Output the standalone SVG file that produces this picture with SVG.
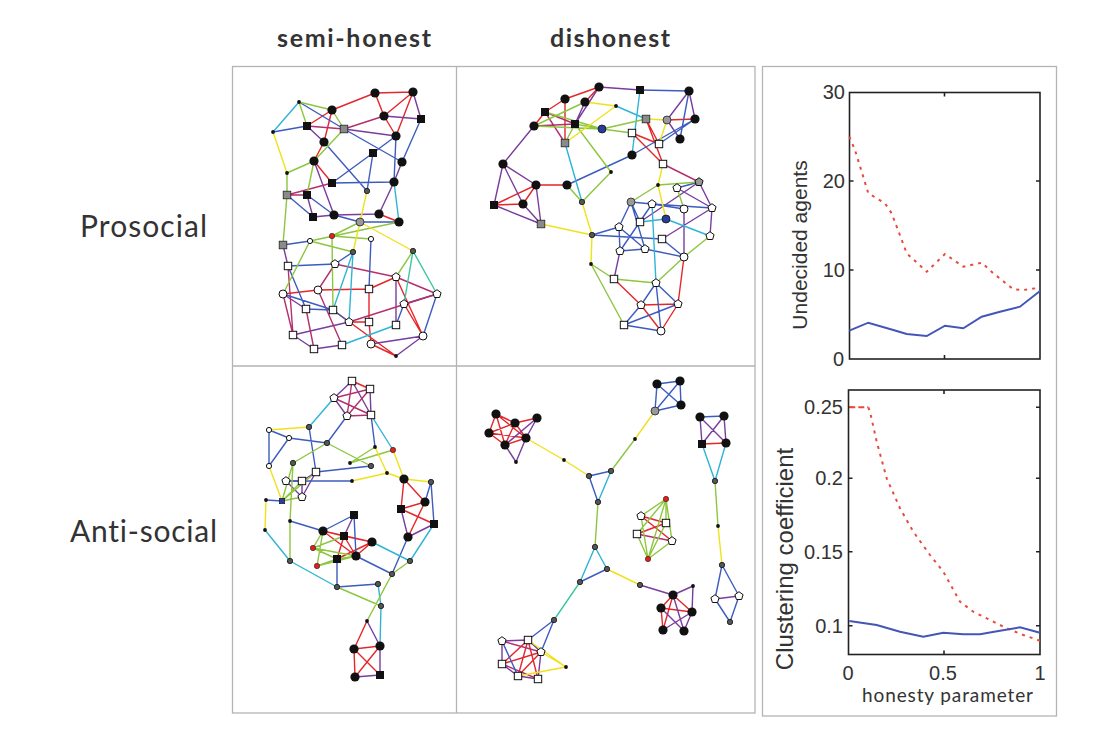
<svg xmlns="http://www.w3.org/2000/svg" width="1108" height="754" viewBox="0 0 1108 754">
<style>
.e{fill:none;stroke-width:1.4;stroke-linecap:round}
.r{stroke:#e5262a}.p{stroke:#7a3c9e}.m{stroke:#b3306e}.b{stroke:#3c5cbf}.c{stroke:#2fb4d6}.g{stroke:#8dc63f}.y{stroke:#f0e21a}.t{stroke:#3cc7a0}
.frame{fill:none;stroke:#b4b4b4;stroke-width:1.3}
.ax{fill:none;stroke:#222;stroke-width:1.6}
.hd{font-family:Lato,"Open Sans",sans-serif;fill:#333;font-variant-ligatures:none}
.tk{font-family:"Liberation Sans",Arial,sans-serif;fill:#333;font-size:20px}
.lbl{font-family:"Liberation Sans",Arial,sans-serif;fill:#333}
</style>
<defs>
<circle id="bc" r="4.6" fill="#111"/>
<rect id="bs" x="-4" y="-4" width="8" height="8" fill="#111"/>
<rect id="gs" x="-3.8" y="-3.8" width="7.6" height="7.6" fill="#8a8a8a" stroke="#222" stroke-width="0.8"/>
<circle id="gc" r="4" fill="#999" stroke="#222" stroke-width="0.8"/>
<rect id="ws" x="-3.7" y="-3.7" width="7.4" height="7.4" fill="#fff" stroke="#111" stroke-width="1"/>
<path id="wp" d="M0 -4.3L4.1 -1.3L2.6 3.5L-2.6 3.5L-4.1 -1.3Z" fill="#fff" stroke="#111" stroke-width="1"/>
<path id="gp" d="M0 -4.3L4.1 -1.3L2.6 3.5L-2.6 3.5L-4.1 -1.3Z" fill="#999" stroke="#111" stroke-width="1"/>
<circle id="wc" r="4" fill="#fff" stroke="#111" stroke-width="1"/>
<circle id="wsm" r="2.6" fill="#fff" stroke="#111" stroke-width="1"/>
<circle id="td" r="1.9" fill="#111"/>
<circle id="sd" r="2.7" fill="#555" stroke="#111" stroke-width="0.8"/>
<circle id="rd" r="2.7" fill="#e02020" stroke="#222" stroke-width="0.6"/>
<circle id="blc" r="4" fill="#2b3d9a" stroke="#111" stroke-width="0.8"/>
<rect id="bls" x="-2.7" y="-2.7" width="5.4" height="5.4" fill="#2b3d9a" stroke="#111" stroke-width="0.6"/>
</defs>
<rect width="1108" height="754" fill="#fff"/>

<g id="frames">
<rect class="frame" x="232.5" y="66.5" width="522.5" height="646.5"/>
<path class="frame" d="M456.5 66.5V713M232.5 366H755"/>
<rect class="frame" x="762.5" y="66.5" width="294" height="649.5"/>
</g>

<g id="headings">
<text class="hd" x="277" y="47" font-size="25" font-weight="700" textLength="154">semi-honest</text>
<text class="hd" x="550" y="47" font-size="25" font-weight="700" textLength="120">dishonest</text>
<text class="hd" x="80" y="237" font-size="30" textLength="127">Prosocial</text>
<text class="hd" x="70" y="542" font-size="30" textLength="147">Anti-social</text>
</g>

<g id="connectors">
<!-- panel 1 -->
<path class="e r" d="M375 93L413 92M375 93L332 110M375 93L384 116M413 92L384 116M413 92L396 136M384 116L396 136M332 110L324 142M332 110L307 126M324 142L314 161M314 161L332 183M379 214L399 222M396 277L369 289M396 277L423 336M283 294L318 290M318 290L369 289M369 289L369 322M333 310L396 356M404 304L423 336M349 322L369 322M369 322L371 344M371 344L396 356"/>
<path class="e p" d="M413 92L421 119M384 116L421 119M307 126L324 142M344 129L396 136M314 161L334 215M402 162L394 182M394 182L379 214M307 195L313 217M313 217L334 215M334 215L379 214M396 277L396 325M283 294L306 309M437 294L404 304M349 322L293 335M293 335L314 349M314 349L342 345M371 344L423 336M396 356L423 336M283 245L288 266"/>
<path class="e m" d="M307 126L344 129M344 129L384 116M287 195L307 195M287 195L332 183M288 266L293 335M335 264L396 277M335 264L318 290M396 277L437 294M283 294L293 335M318 290L342 345M437 294L349 322M306 309L314 349"/>
<path class="e b" d="M299 102L344 129M273 132L307 126M373 153L332 183M373 153L367 191M373 153L396 136M344 129L402 162M396 136L394 182M332 183L394 182M287 195L313 217M307 195L334 215M334 215L360 222M360 222L399 222M324 142L367 191M402 162L421 119M283 245L310 241M353 252L335 264M371 239L369 289M288 266L335 264M288 266L306 309M306 309L333 310M333 310L349 322M404 304L396 325M437 294L423 336M283 294L333 310"/>
<path class="e c" d="M299 102L273 132M353 252L333 310M353 252L349 322M342 345L396 325M394 182L399 222"/>
<path class="e t" d="M413 251L404 304M413 251L437 294"/>
<path class="e g" d="M299 102L332 110M299 102L307 126M332 110L344 129M344 129L314 161M287 173L314 161M287 173L287 195M314 161L307 195M287 195L283 245M360 222L332 236M399 222L310 241M332 236L371 239M310 241L353 252M310 241L283 294M332 236L333 310M413 251L396 277"/>
<path class="e y" d="M273 132L287 173M367 191L360 222M360 222L353 252M360 222L413 251"/>
<!-- panel 2 -->
<path class="e r" d="M599 87L565 99M565 99L545 112M545 112L534 126M565 99L565 143M667 120L695 119M646 119L659 144M646 119L663 164M632 133L659 144M632 133L663 164M536 185L567 185M536 185L494 205M536 185L523 204M494 205L523 204M599 87L585 102M684 257L678 304M614 279L641 305M641 305L678 304M641 305L661 331M678 304L661 331"/>
<path class="e p" d="M599 87L640 90M599 87L575 124M585 102L575 124M689 91L667 120M689 91L695 119M667 120L680 139M534 126L503 164M503 164L536 185M503 164L494 205M503 164L523 204M494 205L541 224M523 204L541 224M536 185L541 224M677 188L712 208M699 182L712 208M712 208L710 236M684 209L684 257M620 251L614 279M712 208L662 239M699 182L640 222"/>
<path class="e m" d="M534 126L575 124M545 112L565 143M663 164L699 182M545 112L575 124"/>
<path class="e b" d="M640 90L689 91M689 91L680 139M695 119L632 155M632 155L567 185M695 119L659 144M592 235L662 239M592 235L619 227M677 188L699 182M631 202L652 204M631 202L640 222M631 202L645 249M631 202L619 227M652 204L684 209M652 204L712 208M652 204L620 251M619 227L620 251M619 227L645 249M662 239L684 257M620 251L645 249M645 249L684 257M656 283L641 305M656 283L678 304M656 283L661 331M641 305L624 325M678 304L624 325M624 325L661 331"/>
<path class="e c" d="M616 106L646 119M640 90L632 155M565 143L582 202M640 222L666 219M666 219L710 236M652 204L656 283"/>
<path class="e g" d="M602 129L575 124M602 129L534 126M602 129L632 133M602 129L646 119M545 112L602 129M575 124L565 143M567 185L582 202M582 202L611 172M611 172L575 124M585 102L534 126M591 264L614 279M591 264L624 325M658 185L699 182M658 185L631 202M677 188L684 209M684 257L656 283M710 236L684 257M614 279L656 283"/>
<path class="e y" d="M585 102L616 106M616 106L565 143M646 119L667 120M667 120L659 144M663 164L658 185M541 224L592 235M582 202L592 235M592 235L591 264M658 185L666 219"/>
<!-- panel 3 -->
<path class="e r" d="M352 381L370 389M404 479L425 502M401 509L425 502M425 502L408 537M401 509L434 524M404 479L401 509M323 531L344 536M323 531L372 542M344 536L372 542M344 536L337 559M344 536L356 556M372 542L337 559M372 542L356 556M323 531L356 556M367 621L354 649M354 649L380 675M380 646L355 677M354 649L355 677M380 646L354 649"/>
<path class="e p" d="M352 381L334 398M352 381L371 415M370 389L371 415M334 398L347 416M316 472L302 481M316 472L302 497M286 481L302 481M286 481L302 497M302 481L302 497M434 524L408 537M401 509L408 537M354 515L344 536M367 621L380 646M380 646L380 675M355 677L380 675"/>
<path class="e m" d="M352 381L347 416M370 389L334 398M370 389L347 416M334 398L371 415M347 416L371 415"/>
<path class="e b" d="M347 416L327 443M371 415L375 447M269 430L289 438M269 430L269 466M289 438L269 466M289 438L327 443M309 427L316 472M316 472L371 466M286 481L352 481M431 482L425 502M431 482L434 524M266 500L282 501M290 521L323 531M323 531L354 515M354 515L356 556M408 537L392 574M337 559L337 587M337 587L378 584M356 556L392 574"/>
<path class="e c" d="M334 398L309 427M371 415L393 450M434 524L410 561M372 542L410 561M265 530L290 561M290 561L337 587M378 584L381 606M381 606L380 646"/>
<path class="e g" d="M327 443L293 463M327 443L371 466M375 447L350 463M293 463L282 501M282 501L302 497M282 501L302 481M282 501L316 472M293 463L290 521M290 521L290 561M323 531L313 548M313 548L337 559M313 548L356 556M337 559L356 556M337 559L317 566M356 556L317 566M323 531L317 566M313 548L344 536M337 587L381 606M410 561L392 574M392 574L367 621M393 450L350 463"/>
<path class="e y" d="M269 430L309 427M375 447L387 473M393 450L404 479M269 466L282 501M352 481L387 473M387 473L404 479M404 479L431 482M266 500L265 530"/>
<!-- panel 4 -->
<path class="e r" d="M496 414L515 423M496 414L489 433M496 414L526 438M496 414L505 445M515 423L489 433M515 423L526 438M515 423L505 445M489 433L526 438M489 433L505 445M526 438L505 445M515 423L537 418M673 595L661 608M673 595L692 612M661 608L692 612M661 608L663 630M673 595L663 630M528 640L502 664M528 640L518 676M541 652L502 664M541 652L518 676M528 640L538 679M641 516L666 523M641 516L672 541M637 534L666 523M702 444L726 443"/>
<path class="e p" d="M537 418L526 438M526 438L516 462M505 445L516 462M537 418L505 445M640 585L673 595M693 586L673 595M693 586L692 612M673 595L684 631M661 608L684 631M692 612L663 630M692 612L684 631M502 641L528 640M502 641L502 664M528 640L541 652M541 652L538 679M502 664L518 676M518 676L538 679M700 417L702 444M724 416L726 443M700 417L726 443M724 416L702 444M715 599L739 596"/>
<path class="e m" d="M502 641L541 652M502 664L538 679M637 534L672 541"/>
<path class="e b" d="M589 476L611 471M589 476L598 502M655 411L657 384M657 384L680 381M680 381L681 405M681 405L655 411M657 384L681 405M655 411L680 381M607 569L580 582M554 620L528 640M554 620L541 652M700 417L724 416M722 565L715 599M722 565L739 596M715 599L730 622M739 596L730 622M502 641L518 676"/>
<path class="e c" d="M611 471L598 502M595 547L607 569M595 547L580 582M702 444L715 481M726 443L715 481"/>
<path class="e t" d="M580 582L554 620"/>
<path class="e g" d="M611 471L635 439M598 502L595 547M666 499L641 516M666 499L666 523M666 499L637 534M666 499L672 541M666 499L648 559M641 516L648 559M666 523L648 559M672 541L648 559M637 534L648 559M715 481L718 526"/>
<path class="e y" d="M526 438L564 460M564 460L589 476M635 439L655 411M607 569L640 585M528 640L566 667M541 652L566 667M518 676L566 667M718 526L722 565"/>
</g>

<g id="nodes-semi-prosocial">
<g id="p1a1"><use href="#bc" x="375" y="93"/></g>
<g id="p1a2"><use href="#bc" x="413" y="92"/></g>
<g id="p1a3"><use href="#td" x="299" y="102"/></g>
<g id="p1a4"><use href="#bc" x="332" y="110"/></g>
<g id="p1a5"><use href="#bc" x="384" y="116"/></g>
<g id="p1a6"><use href="#bs" x="421" y="119"/></g>
<g id="p1a7"><use href="#td" x="273" y="132"/></g>
<g id="p1a8"><use href="#bs" x="307" y="126"/></g>
<g id="p1a9"><use href="#gs" x="344" y="129"/></g>
<g id="p1a10"><use href="#bc" x="396" y="136"/></g>
<g id="p1a11"><use href="#bc" x="324" y="142"/></g>
<g id="p1a12"><use href="#bs" x="373" y="153"/></g>
<g id="p1a13"><use href="#bc" x="314" y="161"/></g>
<g id="p1a14"><use href="#bc" x="402" y="162"/></g>
<g id="p1a15"><use href="#td" x="287" y="173"/></g>
<g id="p1a16"><use href="#bs" x="332" y="183"/></g>
<g id="p1a17"><use href="#bc" x="394" y="182"/></g>
<g id="p1a18"><use href="#sd" x="367" y="191"/></g>
<g id="p1a19"><use href="#gs" x="287" y="195"/></g>
<g id="p1a20"><use href="#bs" x="307" y="195"/></g>
<g id="p1a21"><use href="#bs" x="313" y="217"/></g>
<g id="p1a22"><use href="#bc" x="334" y="215"/></g>
<g id="p1a23"><use href="#bc" x="379" y="214"/></g>
<g id="p1a24"><use href="#gc" x="360" y="222"/></g>
<g id="p1a25"><use href="#bc" x="399" y="222"/></g>
<g id="p1b1"><use href="#rd" x="332" y="236"/></g>
<g id="p1b2"><use href="#wsm" x="310" y="241"/></g>
<g id="p1b3"><use href="#wsm" x="371" y="239"/></g>
<g id="p1b4"><use href="#gs" x="283" y="245"/></g>
<g id="p1b5"><use href="#sd" x="353" y="252"/></g>
<g id="p1b6"><use href="#sd" x="413" y="251"/></g>
<g id="p1b7"><use href="#ws" x="288" y="266"/></g>
<g id="p1b8"><use href="#wp" x="335" y="264"/></g>
<g id="p1b9"><use href="#wp" x="396" y="277"/></g>
<g id="p1b10"><use href="#wc" x="283" y="294"/></g>
<g id="p1b11"><use href="#wc" x="318" y="290"/></g>
<g id="p1b12"><use href="#ws" x="369" y="289"/></g>
<g id="p1b13"><use href="#wp" x="437" y="294"/></g>
<g id="p1b14"><use href="#ws" x="306" y="309"/></g>
<g id="p1b15"><use href="#ws" x="333" y="310"/></g>
<g id="p1b16"><use href="#wp" x="404" y="304"/></g>
<g id="p1b17"><use href="#wp" x="349" y="322"/></g>
<g id="p1b18"><use href="#ws" x="369" y="322"/></g>
<g id="p1b19"><use href="#ws" x="396" y="325"/></g>
<g id="p1b20"><use href="#ws" x="293" y="335"/></g>
<g id="p1b21"><use href="#wc" x="423" y="336"/></g>
<g id="p1b22"><use href="#ws" x="314" y="349"/></g>
<g id="p1b23"><use href="#ws" x="342" y="345"/></g>
<g id="p1b24"><use href="#wc" x="371" y="344"/></g>
<g id="p1b25"><use href="#td" x="396" y="356"/></g>
</g>

<g id="nodes-dis-prosocial">
<g id="p2c1"><use href="#bc" x="599" y="87"/></g>
<g id="p2c2"><use href="#bs" x="640" y="90"/></g>
<g id="p2c3"><use href="#bc" x="689" y="91"/></g>
<g id="p2c4"><use href="#bc" x="565" y="99"/></g>
<g id="p2c5"><use href="#bc" x="585" y="102"/></g>
<g id="p2c6"><use href="#td" x="616" y="106"/></g>
<g id="p2c7"><use href="#bs" x="545" y="112"/></g>
<g id="p2c8"><use href="#gs" x="646" y="119"/></g>
<g id="p2c9"><use href="#gc" x="667" y="120"/></g>
<g id="p2c10"><use href="#bc" x="695" y="119"/></g>
<g id="p2c11"><use href="#bc" x="534" y="126"/></g>
<g id="p2c12"><use href="#bs" x="575" y="124"/></g>
<g id="p2c13"><use href="#blc" x="602" y="129"/></g>
<g id="p2c14"><use href="#ws" x="632" y="133"/></g>
<g id="p2c15"><use href="#bc" x="680" y="139"/></g>
<g id="p2c16"><use href="#gs" x="565" y="143"/></g>
<g id="p2c17"><use href="#ws" x="659" y="144"/></g>
<g id="p2c18"><use href="#bc" x="632" y="155"/></g>
<g id="p2c19"><use href="#ws" x="663" y="164"/></g>
<g id="p2c20"><use href="#bc" x="503" y="164"/></g>
<g id="p2c21"><use href="#td" x="611" y="172"/></g>
<g id="p2c22"><use href="#bc" x="536" y="185"/></g>
<g id="p2c23"><use href="#bc" x="567" y="185"/></g>
<g id="p2c24"><use href="#bs" x="494" y="205"/></g>
<g id="p2c25"><use href="#bc" x="523" y="204"/></g>
<g id="p2c26"><use href="#sd" x="582" y="202"/></g>
<g id="p2c27"><use href="#gs" x="541" y="224"/></g>
<g id="p2d1"><use href="#td" x="658" y="185"/></g>
<g id="p2d2"><use href="#wp" x="677" y="188"/></g>
<g id="p2d3"><use href="#gp" x="699" y="182"/></g>
<g id="p2d4"><use href="#gc" x="631" y="202"/></g>
<g id="p2d5"><use href="#wp" x="652" y="204"/></g>
<g id="p2d6"><use href="#wc" x="684" y="209"/></g>
<g id="p2d7"><use href="#wp" x="712" y="208"/></g>
<g id="p2d8"><use href="#ws" x="640" y="222"/></g>
<g id="p2d9"><use href="#blc" x="666" y="219"/></g>
<g id="p2d10"><use href="#wp" x="619" y="227"/></g>
<g id="p2d11"><use href="#wp" x="710" y="236"/></g>
<g id="p2d12"><use href="#ws" x="662" y="239"/></g>
<g id="p2d13"><use href="#sd" x="592" y="235"/></g>
<g id="p2d14"><use href="#wp" x="620" y="251"/></g>
<g id="p2d15"><use href="#wp" x="645" y="249"/></g>
<g id="p2d16"><use href="#wc" x="684" y="257"/></g>
<g id="p2d17"><use href="#td" x="591" y="264"/></g>
<g id="p2d18"><use href="#ws" x="614" y="279"/></g>
<g id="p2d19"><use href="#wp" x="656" y="283"/></g>
<g id="p2d20"><use href="#wp" x="641" y="305"/></g>
<g id="p2d21"><use href="#wp" x="678" y="304"/></g>
<g id="p2d22"><use href="#ws" x="624" y="325"/></g>
<g id="p2d23"><use href="#wc" x="661" y="331"/></g>
</g>

<g id="nodes-semi-antisocial">
<g id="p3e1"><use href="#ws" x="352" y="381"/></g>
<g id="p3e2"><use href="#ws" x="370" y="389"/></g>
<g id="p3e3"><use href="#wp" x="334" y="398"/></g>
<g id="p3e4"><use href="#wp" x="347" y="416"/></g>
<g id="p3e5"><use href="#ws" x="371" y="415"/></g>
<g id="p3e6"><use href="#wsm" x="269" y="430"/></g>
<g id="p3e7"><use href="#sd" x="309" y="427"/></g>
<g id="p3e8"><use href="#wsm" x="289" y="438"/></g>
<g id="p3e9"><use href="#sd" x="327" y="443"/></g>
<g id="p3e10"><use href="#td" x="375" y="447"/></g>
<g id="p3e11"><use href="#rd" x="393" y="450"/></g>
<g id="p3e12"><use href="#wsm" x="269" y="466"/></g>
<g id="p3e13"><use href="#sd" x="293" y="463"/></g>
<g id="p3e14"><use href="#td" x="350" y="463"/></g>
<g id="p3e15"><use href="#sd" x="371" y="466"/></g>
<g id="p3e16"><use href="#ws" x="316" y="472"/></g>
<g id="p3e17"><use href="#td" x="387" y="473"/></g>
<g id="p3e18"><use href="#wp" x="286" y="481"/></g>
<g id="p3e19"><use href="#ws" x="302" y="481"/></g>
<g id="p3e20"><use href="#td" x="352" y="481"/></g>
<g id="p3e21"><use href="#bc" x="404" y="479"/></g>
<g id="p3e22"><use href="#sd" x="431" y="482"/></g>
<g id="p3e23"><use href="#td" x="266" y="500"/></g>
<g id="p3e24"><use href="#bls" x="282" y="501"/></g>
<g id="p3e25"><use href="#wp" x="302" y="497"/></g>
<g id="p3e26"><use href="#bs" x="401" y="509"/></g>
<g id="p3e27"><use href="#bc" x="425" y="502"/></g>
<g id="p3e28"><use href="#bs" x="354" y="515"/></g>
<g id="p3e29"><use href="#td" x="290" y="521"/></g>
<g id="p3e30"><use href="#td" x="265" y="530"/></g>
<g id="p3e31"><use href="#bc" x="323" y="531"/></g>
<g id="p3e32"><use href="#bs" x="344" y="536"/></g>
<g id="p3e33"><use href="#bc" x="372" y="542"/></g>
<g id="p3e34"><use href="#bs" x="434" y="524"/></g>
<g id="p3e35"><use href="#bc" x="408" y="537"/></g>
<g id="p3e36"><use href="#rd" x="313" y="548"/></g>
<g id="p3e37"><use href="#bs" x="337" y="559"/></g>
<g id="p3e38"><use href="#bc" x="356" y="556"/></g>
<g id="p3e39"><use href="#rd" x="317" y="566"/></g>
<g id="p3e40"><use href="#sd" x="290" y="561"/></g>
<g id="p3e41"><use href="#sd" x="410" y="561"/></g>
<g id="p3e42"><use href="#sd" x="392" y="574"/></g>
<g id="p3e43"><use href="#sd" x="337" y="587"/></g>
<g id="p3e44"><use href="#sd" x="378" y="584"/></g>
<g id="p3e45"><use href="#sd" x="381" y="606"/></g>
<g id="p3e46"><use href="#td" x="367" y="621"/></g>
<g id="p3e47"><use href="#bc" x="380" y="646"/></g>
<g id="p3e48"><use href="#bc" x="354" y="649"/></g>
<g id="p3e49"><use href="#bc" x="355" y="677"/></g>
<g id="p3e50"><use href="#bs" x="380" y="675"/></g>
</g>

<g id="nodes-dis-antisocial">
<g id="p4f1"><use href="#bc" x="496" y="414"/></g>
<g id="p4f2"><use href="#bc" x="515" y="423"/></g>
<g id="p4f3"><use href="#bc" x="537" y="418"/></g>
<g id="p4f4"><use href="#bc" x="489" y="433"/></g>
<g id="p4f5"><use href="#bc" x="526" y="438"/></g>
<g id="p4f6"><use href="#bc" x="505" y="445"/></g>
<g id="p4f7"><use href="#td" x="516" y="462"/></g>
<g id="p4g1"><use href="#td" x="564" y="460"/></g>
<g id="p4g2"><use href="#sd" x="589" y="476"/></g>
<g id="p4g3"><use href="#sd" x="611" y="471"/></g>
<g id="p4g4"><use href="#sd" x="598" y="502"/></g>
<g id="p4g5"><use href="#td" x="635" y="439"/></g>
<g id="p4h1"><use href="#gc" x="655" y="411"/></g>
<g id="p4h2"><use href="#bc" x="657" y="384"/></g>
<g id="p4h3"><use href="#bc" x="680" y="381"/></g>
<g id="p4h4"><use href="#bc" x="681" y="405"/></g>
<g id="p4g6"><use href="#sd" x="595" y="547"/></g>
<g id="p4g7"><use href="#sd" x="607" y="569"/></g>
<g id="p4g8"><use href="#sd" x="580" y="582"/></g>
<g id="p4g9"><use href="#sd" x="640" y="585"/></g>
<g id="p4g10"><use href="#sd" x="554" y="620"/></g>
<g id="p4i2"><use href="#td" x="693" y="586"/></g>
<g id="p4i3"><use href="#bc" x="673" y="595"/></g>
<g id="p4i4"><use href="#bc" x="661" y="608"/></g>
<g id="p4i5"><use href="#bc" x="692" y="612"/></g>
<g id="p4i6"><use href="#bc" x="663" y="630"/></g>
<g id="p4i7"><use href="#bc" x="684" y="631"/></g>
<g id="p4j1"><use href="#wp" x="502" y="641"/></g>
<g id="p4j2"><use href="#ws" x="528" y="640"/></g>
<g id="p4j3"><use href="#wp" x="541" y="652"/></g>
<g id="p4j4"><use href="#ws" x="502" y="664"/></g>
<g id="p4j5"><use href="#ws" x="518" y="676"/></g>
<g id="p4j6"><use href="#ws" x="538" y="679"/></g>
<g id="p4j7"><use href="#td" x="566" y="667"/></g>
<g id="p4k1"><use href="#rd" x="666" y="499"/></g>
<g id="p4k2"><use href="#wp" x="641" y="516"/></g>
<g id="p4k3"><use href="#ws" x="666" y="523"/></g>
<g id="p4k4"><use href="#ws" x="637" y="534"/></g>
<g id="p4k5"><use href="#wp" x="672" y="541"/></g>
<g id="p4k6"><use href="#rd" x="648" y="559"/></g>
<g id="p4l1"><use href="#bc" x="700" y="417"/></g>
<g id="p4l2"><use href="#bc" x="724" y="416"/></g>
<g id="p4l3"><use href="#bs" x="702" y="444"/></g>
<g id="p4l4"><use href="#bc" x="726" y="443"/></g>
<g id="p4m1"><use href="#sd" x="715" y="481"/></g>
<g id="p4m2"><use href="#td" x="718" y="526"/></g>
<g id="p4m3"><use href="#sd" x="722" y="565"/></g>
<g id="p4m4"><use href="#wp" x="715" y="599"/></g>
<g id="p4m5"><use href="#wp" x="739" y="596"/></g>
<g id="p4m6"><use href="#sd" x="730" y="622"/></g>
</g>

<g id="chart-undecided">
<rect class="ax" x="849.5" y="92.5" width="190.5" height="266.5"/>
<path class="ax" d="M849.5 181h4M849.5 270h4M1040 181h-4M1040 270h-4M944.5 92.5v4M944.5 359v-4"/>
<path fill="none" stroke="#e84a3a" stroke-width="2" stroke-dasharray="3 5" d="M849.3 136.7L855 150L868.3 193.3L885 203.3L891.7 213.3L906.7 253.3L926.7 271.7L945 254L963.3 266.7L981.7 262.7L993.3 273.3L1013.3 289.3L1023.3 290L1040 287.7"/>
<path fill="none" stroke="#4555b5" stroke-width="2" d="M849.3 330.7L868.3 322.7L893.3 330L906.7 334L926.7 336L945 325.7L963.3 328.3L981.7 316.7L1000 311.7L1020 306.7L1040 291"/>
<text class="tk" x="845" y="99" text-anchor="end">30</text>
<text class="tk" x="845" y="188" text-anchor="end">20</text>
<text class="tk" x="845" y="277" text-anchor="end">10</text>
<text class="tk" x="844" y="366" text-anchor="end">0</text>
<text class="lbl" font-size="21" transform="translate(807 245) rotate(-90)" text-anchor="middle">Undecided agents</text>
</g>

<g id="chart-clustering">
<rect class="ax" x="848.5" y="390" width="191.5" height="264.5"/>
<path class="ax" d="M848.5 407.3h4M848.5 478.3h4M848.5 551.7h4M848.5 625.7h4M1040 407.3h-4M1040 478.3h-4M1040 551.7h-4M1040 625.7h-4M944 390v4M944 654.5v-4"/>
<path fill="none" stroke="#e84a3a" stroke-width="2" stroke-dasharray="6 3" d="M849.3 407.3L868.3 407.3"/>
<path fill="none" stroke="#e84a3a" stroke-width="2" stroke-dasharray="3 5" d="M868.3 407.3L870 411.7L876.7 441.7L886.7 478.3L900 508.3L913.3 531.7L930 555L943.3 571.7L960 601.7L973.3 611.7L990 620L1006.7 628.3L1023.3 635L1040 640.7"/>
<path fill="none" stroke="#4555b5" stroke-width="2" d="M849.3 621L876.7 625L900 631.7L923.3 636.7L943.3 632.7L963.3 634.3L980 634.3L1000 630.7L1020 627.3L1040 632.7"/>
<text class="tk" x="843" y="414" text-anchor="end">0.25</text>
<text class="tk" x="843" y="485" text-anchor="end">0.2</text>
<text class="tk" x="843" y="559" text-anchor="end">0.15</text>
<text class="tk" x="843" y="633" text-anchor="end">0.1</text>
<text class="tk" x="848" y="680" text-anchor="middle">0</text>
<text class="tk" x="943" y="680" text-anchor="middle">0.5</text>
<text class="tk" x="1040" y="680" text-anchor="middle">1</text>
<text class="lbl" font-size="24" transform="translate(793 559) rotate(-90)" text-anchor="middle">Clustering coefficient</text>
<text class="hd" x="862" y="702" font-size="19" textLength="171">honesty parameter</text>
</g>
</svg>
